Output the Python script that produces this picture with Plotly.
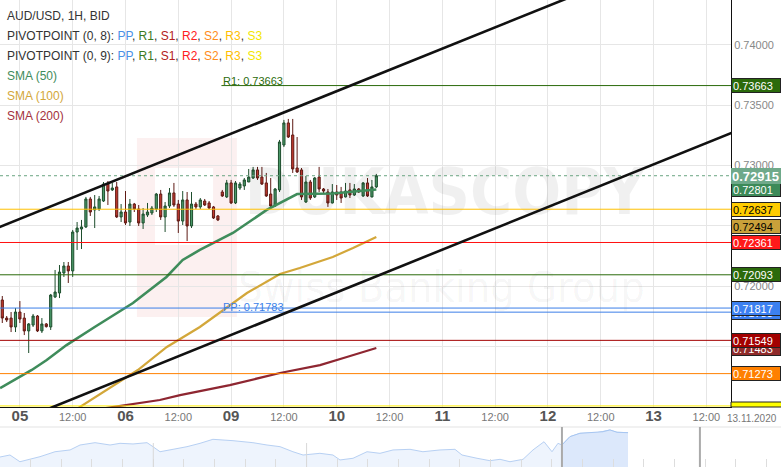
import plotly.graph_objects as go

# ---------------- data ----------------
# candle time: trading hours since 05.11 00:00 (weekend removed)
candle_hours = list(range(-4, 82))
opens = [0.71884, 0.71734, 0.71734, 0.71660, 0.71784, 0.71734, 0.71627, 0.71676, 0.71751, 0.71627,
         0.71685, 0.71660, 0.71909, 0.71942, 0.72108, 0.72166, 0.72125, 0.72448, 0.72473, 0.72490,
         0.72722, 0.72631, 0.72639, 0.72705, 0.72846, 0.72797, 0.72822, 0.72573, 0.72614, 0.72531,
         0.72680, 0.72639, 0.72523, 0.72589, 0.72606, 0.72639, 0.72763, 0.72573, 0.72664, 0.72772,
         0.72680, 0.72539, 0.72714, 0.72498, 0.72680, 0.72656, 0.72705, 0.72689, 0.72656, 0.72581,
         0.72780, 0.72739, 0.72855, 0.72689, 0.72813, 0.72830, 0.72863, 0.72896, 0.72963, 0.72904,
         0.72855, 0.72763, 0.72664, 0.72797, 0.73170, 0.73353, 0.73253, 0.72979, 0.72963, 0.72697,
         0.72863, 0.72739, 0.72904, 0.72805, 0.72780, 0.72689, 0.72780, 0.72780, 0.72739, 0.72797,
         0.72755, 0.72805, 0.72747, 0.72855, 0.72739, 0.72822]
highs = [0.71917, 0.71751, 0.71784, 0.71817, 0.71875, 0.71776, 0.71693, 0.71768, 0.71759, 0.71734,
         0.71693, 0.71934, 0.72133, 0.72174, 0.72199, 0.72199, 0.72465, 0.72531, 0.72548, 0.72739,
         0.72739, 0.72755, 0.72747, 0.72863, 0.72871, 0.72855, 0.72863, 0.72680, 0.72788, 0.72722,
         0.72689, 0.72672, 0.72647, 0.72689, 0.72664, 0.72772, 0.72797, 0.72697, 0.72813, 0.72855,
         0.72714, 0.72788, 0.72780, 0.72780, 0.72697, 0.72730, 0.72722, 0.72705, 0.72664, 0.72589,
         0.72797, 0.72880, 0.72880, 0.72871, 0.72863, 0.72896, 0.72971, 0.72988, 0.72988, 0.72988,
         0.72938, 0.72896, 0.72813, 0.73212, 0.73378, 0.73386, 0.73386, 0.73236, 0.72979, 0.72913,
         0.72880, 0.72904, 0.72988, 0.72813, 0.72805, 0.72846, 0.72838, 0.72822, 0.72855, 0.72855,
         0.72846, 0.72813, 0.72863, 0.72896, 0.72880, 0.72930]
lows = [0.71693, 0.71701, 0.71618, 0.71618, 0.71693, 0.71593, 0.71444, 0.71660, 0.71618, 0.71610,
        0.71655, 0.71635, 0.71900, 0.71900, 0.72075, 0.72025, 0.72075, 0.72299, 0.72307, 0.72481,
        0.72581, 0.72481, 0.72622, 0.72697, 0.72672, 0.72788, 0.72564, 0.72531, 0.72506, 0.72498,
        0.72614, 0.72498, 0.72473, 0.72573, 0.72589, 0.72614, 0.72548, 0.72448, 0.72647, 0.72656,
        0.72440, 0.72506, 0.72373, 0.72481, 0.72639, 0.72639, 0.72664, 0.72639, 0.72556, 0.72539,
        0.72739, 0.72730, 0.72680, 0.72680, 0.72797, 0.72797, 0.72863, 0.72888, 0.72880, 0.72838,
        0.72739, 0.72656, 0.72656, 0.72780, 0.73153, 0.73228, 0.72938, 0.72938, 0.72714, 0.72689,
        0.72714, 0.72730, 0.72780, 0.72772, 0.72656, 0.72685, 0.72714, 0.72689, 0.72735, 0.72730,
        0.72747, 0.72772, 0.72739, 0.72739, 0.72735, 0.72813]
closes = [0.71734, 0.71718, 0.71660, 0.71784, 0.71726, 0.71627, 0.71685, 0.71751, 0.71627, 0.71685,
          0.71663, 0.71925, 0.71950, 0.72116, 0.72166, 0.72125, 0.72448, 0.72481, 0.72490, 0.72722,
          0.72614, 0.72656, 0.72722, 0.72846, 0.72788, 0.72813, 0.72573, 0.72614, 0.72523, 0.72680,
          0.72639, 0.72523, 0.72597, 0.72614, 0.72647, 0.72763, 0.72573, 0.72664, 0.72772, 0.72672,
          0.72539, 0.72714, 0.72498, 0.72680, 0.72656, 0.72714, 0.72672, 0.72647, 0.72564, 0.72548,
          0.72747, 0.72855, 0.72689, 0.72855, 0.72846, 0.72880, 0.72904, 0.72963, 0.72896, 0.72846,
          0.72747, 0.72664, 0.72805, 0.73195, 0.73353, 0.73236, 0.72971, 0.72946, 0.72739, 0.72863,
          0.72730, 0.72896, 0.72805, 0.72788, 0.72689, 0.72780, 0.72755, 0.72730, 0.72788, 0.72755,
          0.72805, 0.72780, 0.72855, 0.72747, 0.72822, 0.72915]

sma50_hours = [-4.5, 2.7, 6.1, 10.6, 17, 25.7, 33.3, 37, 40.9, 48.4, 56.1, 59.1, 63, 71.1, 81]
sma50_values = [0.71153, 0.71303, 0.71386, 0.71510, 0.71660, 0.71859, 0.72075, 0.72216, 0.72299,
                0.72440, 0.72631, 0.72689, 0.72763, 0.72768, 0.72801]
sma100_hours = [9, 13.6, 26.8, 33.4, 40.9, 51.6, 59.1, 63.6, 71.1, 75.7, 81]
sma100_values = [0.70888, 0.70996, 0.71303, 0.71494, 0.71660, 0.71942, 0.72099, 0.72149, 0.72241,
                 0.72315, 0.72407]
sma200_hours = [18, 21.1, 31.8, 36.4, 47.7, 59.1, 68.2, 74.3, 81]
sma200_values = [0.70979, 0.70996, 0.71054, 0.71095, 0.71178, 0.71278, 0.71344, 0.71411, 0.71485]

channel_hours = [-10, 170]
channel_upper = [0.72410, 0.75058]
channel_lower = [0.70738, 0.73393]

full_levels = [0.72637, 0.72361, 0.72093, 0.71817, 0.71549, 0.71273, 0.71005]
session_levels = [0.73663, 0.71783]
session_names = ["R1", "PP"]
session_start = 45.8
current_price = 0.72915

label_values = [0.73663, 0.72801, 0.72637, 0.72494, 0.72361, 0.72093, 0.71783, 0.71817,
                0.71483, 0.71549, 0.71273]

tick_hours = [0, 12, 24, 36, 48, 60, 72, 84, 96, 108, 120, 132, 144, 156]
tick_days = ["05", "12:00", "06", "12:00", "09", "12:00", "10", "12:00", "11", "12:00",
             "12", "12:00", "13", "12:00"]
price_ticks = [0.715, 0.720, 0.725, 0.730, 0.735, 0.740]

nav_days = [0, 0.65, 1.30, 2.61, 3.59, 4.57, 5.22, 6.20, 7.18, 7.83, 8.68, 9.59, 9.98, 10.44, 11.29,
            12.20, 13.05, 13.89, 15.20, 16.50, 17.42, 18.27, 19.11, 19.77, 20.87, 21.72, 22.18,
            23.03, 23.94, 24.79, 25.64, 26.75, 27.59, 28.70, 29.68, 30.14, 31.12, 31.96, 32.62,
            33.27, 34.12, 34.77, 35.49, 36.01, 36.40, 36.66, 37.18, 37.83, 38.94, 39.33, 39.79,
            40.25, 40.97]
nav_values = [0.7025, 0.7050, 0.6966, 0.7029, 0.7091, 0.7113, 0.7175, 0.7204, 0.7175, 0.7196,
              0.7188, 0.7204, 0.7154, 0.7091, 0.7121, 0.7154, 0.7196, 0.7246, 0.7229, 0.7204,
              0.7175, 0.7154, 0.7091, 0.7050, 0.7071, 0.7050, 0.6988, 0.7009, 0.7091, 0.7071,
              0.7113, 0.7121, 0.7091, 0.7113, 0.7121, 0.7050, 0.7009, 0.6979, 0.6996, 0.6966,
              0.6996, 0.7113, 0.7216, 0.7091, 0.7196, 0.7175, 0.7279, 0.7321, 0.7329, 0.7341,
              0.7363, 0.7334, 0.7329]
nav_window = [36.66, 45.66]

# ---------------- figure ----------------
W, H = 781, 467
PLOT_R = 731
PLOT_B = 407
xdom = PLOT_R / W
ydom0 = (H - PLOT_B) / H
FONT = "Liberation Sans"

fig = go.Figure()

# watermark text (below candles)
fig.add_trace(go.Scatter(x=[96.6], y=[0.72730], mode="text", text=["<b>DUKASCOPY</b>"],
                         textfont=dict(family="DejaVu Sans Condensed, Liberation Sans", size=64,
                                       color="rgba(0,0,0,0.06)"),
                         hoverinfo="skip", showlegend=False, xaxis="x", yaxis="y"))
fig.add_trace(go.Scatter(x=[95.8], y=[0.71960], mode="text", text=["Swiss Banking Group"],
                         textfont=dict(family="DejaVu Sans Condensed, Liberation Sans", size=43,
                                       color="rgba(0,0,0,0.045)"),
                         hoverinfo="skip", showlegend=False, xaxis="x", yaxis="y"))

fig.add_trace(go.Scatter(x=sma200_hours, y=sma200_values, mode="lines",
                         line=dict(color="#8e2631", width=2.2), hoverinfo="skip", showlegend=False))
fig.add_trace(go.Scatter(x=sma100_hours, y=sma100_values, mode="lines",
                         line=dict(color="#d3a73a", width=2.2), hoverinfo="skip", showlegend=False))
fig.add_trace(go.Scatter(x=sma50_hours, y=sma50_values, mode="lines",
                         line=dict(color="#3f8c5b", width=2.6), hoverinfo="skip", showlegend=False))

fig.add_trace(go.Candlestick(
    x=candle_hours, open=opens, high=highs, low=lows, close=closes,
    increasing=dict(fillcolor="#4a9868", line=dict(color="#1e4e2d", width=1)),
    decreasing=dict(fillcolor="#c33a2f", line=dict(color="#5e1a14", width=1)),
    whiskerwidth=0, hoverinfo="skip", showlegend=False))

# navigator
fig.add_trace(go.Scatter(x=nav_days, y=nav_values, mode="lines", fill="tozeroy",
                         line=dict(color="#b7d0f3", width=1), fillcolor="#eef4fd",
                         xaxis="x2", yaxis="y2", hoverinfo="skip", showlegend=False))
win_x = [d for d in nav_days if d >= nav_window[0]]
win_y = [v for d, v in zip(nav_days, nav_values) if d >= nav_window[0]]
fig.add_trace(go.Scatter(x=win_x, y=win_y, mode="lines", fill="tozeroy",
                         line=dict(color="#a7c6f1", width=1), fillcolor="#dce8fb",
                         xaxis="x2", yaxis="y2", hoverinfo="skip", showlegend=False))

shapes = []
# watermark logo block
shapes.append(dict(type="rect", xref="x", yref="y", layer="below", x0=26.6, x1=49.3,
                   y0=0.71743, y1=0.73228, line=dict(width=0), fillcolor="#fcf0f0"))
shapes.append(dict(type="rect", xref="x", yref="y", layer="below", x0=30.7, x1=43.9,
                   y0=0.72340, y1=0.72979, line=dict(width=0), fillcolor="#ffffff"))
# level lines
level_colors = ["#ffc000", "#ff1010", "#2b6a0b", "#3b7fe8", "#a30000", "#ff8000", "#ffee00"]
for v, c in zip(full_levels, level_colors):
    shapes.append(dict(type="line", xref="x domain", yref="y", x0=0, x1=1, y0=v, y1=v,
                       line=dict(color=c, width=1)))
session_colors = ["#2b6a0b", "#3b7fe8"]
for v, c in zip(session_levels, session_colors):
    shapes.append(dict(type="line", xref="x", yref="y", x0=session_start, x1=161.6, y0=v, y1=v,
                       line=dict(color=c, width=1)))
shapes.append(dict(type="line", xref="x domain", yref="y", x0=0, x1=1, y0=current_price,
                   y1=current_price, line=dict(color="#6aa582", width=1, dash="3px,3px")))
# channel
for ys in (channel_upper, channel_lower):
    shapes.append(dict(type="line", xref="x", yref="y", x0=channel_hours[0], x1=channel_hours[1],
                       y0=ys[0], y1=ys[1], line=dict(color="#111111", width=2.6)))
# yellow S3 box clipped by the axis
shapes.append(dict(type="rect", xref="paper", yref="paper", x0=xdom, x1=1.2,
                   y0=ydom0, y1=ydom0 + 5 / H, line=dict(color="#222", width=1), fillcolor="#ffff00"))
# navigator decorations
shapes.append(dict(type="line", xref="paper", yref="paper", x0=0, x1=1, y0=40 / H, y1=40 / H,
                   line=dict(color="#e3e3e3", width=1)))
for d in (10, 20):
    shapes.append(dict(type="line", xref="x2", yref="y2 domain", x0=d, x1=d, y0=0, y1=0.6,
                       line=dict(color="#d8d8d8", width=1)))
for d in nav_window:
    shapes.append(dict(type="line", xref="x2", yref="y2 domain", x0=d, x1=d, y0=0, y1=1,
                       line=dict(color="#aaaaaa", width=2)))

ann = []
def legend(text, ypx):
    ann.append(dict(xref="paper", yref="paper", x=5 / W, y=(H - ypx) / H, xanchor="left",
                    yanchor="middle", text=text, showarrow=False,
                    font=dict(family=FONT, size=12, color="#333333")))

pv = ("<span style='color:#4a8fe6'>PP</span>, <span style='color:#3c7a1e'>R1</span>, "
      "<span style='color:#b32020'>S1</span>, <span style='color:#ff2020'>R2</span>, "
      "<span style='color:#ff8c1a'>S2</span>, <span style='color:#ffc000'>R3</span>, "
      "<span style='color:#f2e600'>S3</span>")
legend("AUD/USD, 1H, BID", 16)
legend("PIVOTPOINT (0, 8): " + pv, 36)
legend("PIVOTPOINT (0, 9): " + pv, 56)
legend("<span style='color:#3f8c5b'>SMA (50)</span>", 76)
legend("<span style='color:#d3a73a'>SMA (100)</span>", 96)
legend("<span style='color:#a3323c'>SMA (200)</span>", 116)

for name, v, c in zip(session_names, session_levels, session_colors):
    ann.append(dict(xref="x", yref="y", x=session_start, y=v, xanchor="left", yanchor="bottom",
                    text=f"{name}: {v:.5f}", showarrow=False, yshift=-3,
                    font=dict(family=FONT, size=11, color=c)))

label_bg = ["#2b6a0b", "#3c8a58", "#ffcc00", "#c9a13a", "#ff1a1a", "#2b6a0b", "#3c80f0", "#3c80f0",
            "#8f2a2a", "#a30000", "#ff8000"]
label_fg = ["white", "white", "black", "black", "white", "white", "white", "white", "white",
            "white", "white"]
for v, bg, fg in zip(label_values, label_bg, label_fg):
    ann.append(dict(xref="paper", yref="y", x=xdom, y=v, xanchor="left", yanchor="middle",
                    text=f"{v:.5f}", showarrow=False, bgcolor=bg, bordercolor="#222",
                    borderwidth=1, borderpad=1, width=46, height=11, align="left",
                    font=dict(family=FONT, size=11, color=fg)))
ann.append(dict(xref="paper", yref="y", x=xdom, y=current_price, xanchor="left", yanchor="middle",
                text=f"<b>{current_price:.5f}</b>", showarrow=False, bgcolor="#6fa98a",
                borderwidth=0, borderpad=1, width=48, height=14, align="left",
                font=dict(family=FONT, size=13, color="white")))
ann.append(dict(xref="paper", yref="paper", x=1, y=(H - 418) / H, xanchor="right", xshift=-2,
                yanchor="middle", text="13.11.2020", showarrow=False,
                font=dict(family=FONT, size=10, color="#777")))

ticktext = []
for t in tick_days:
    if ":" in t:
        ticktext.append(t)
    else:
        ticktext.append(f"<span style='font-size:15px;color:#555'><b>{t}</b></span>")

fig.update_layout(
    width=W, height=H, margin=dict(l=0, r=0, t=0, b=0, pad=0), autosize=False,
    paper_bgcolor="white", plot_bgcolor="white", showlegend=False,
    font=dict(family=FONT),
    xaxis=dict(domain=[0, xdom], anchor="y", range=[-4.52, 161.6], tickvals=tick_hours,
               ticktext=ticktext, showgrid=True, gridcolor="#e6e6e6", zeroline=False,
               showline=True, linecolor="#111", linewidth=1, ticks="", automargin=False,
               tickfont=dict(family=FONT, size=11, color="#777"),
               rangeslider=dict(visible=False)),
    yaxis=dict(domain=[ydom0, 1], anchor="x", side="right", range=[0.70996, 0.74373],
               tickvals=price_ticks, ticktext=[f"{v:.5f}" for v in price_ticks],
               showgrid=True, gridcolor="#e6e6e6", zeroline=False, showline=True,
               linecolor="#111", linewidth=1, ticks="", automargin=False,
               tickfont=dict(family=FONT, size=11, color="#888")),
    xaxis2=dict(domain=[0, 1], anchor="y2", range=[0, 50.95], showgrid=False, zeroline=False,
                showticklabels=False, ticks="inside", ticklen=8, tickcolor="#dddddd",
                tick0=0, dtick=2, showline=False, automargin=False),
    yaxis2=dict(domain=[0, 40 / H], anchor="x2", range=[0.69, 0.74], visible=False,
                automargin=False),
    shapes=shapes, annotations=ann,
)

fig.write_html("out.html", config={"displayModeBar": False, "staticPlot": True},
               post_script="document.body.style.margin='0px';document.body.style.overflow='hidden';")
